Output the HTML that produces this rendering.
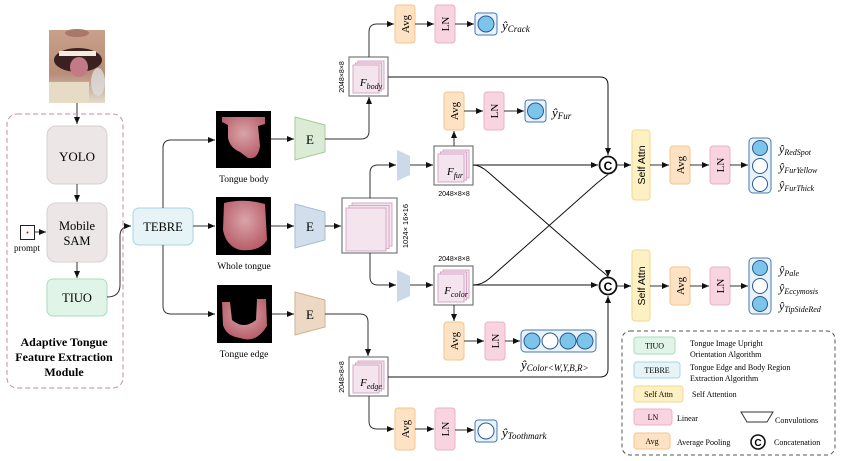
<!DOCTYPE html>
<html><head><meta charset="utf-8"><style>
html,body{margin:0;padding:0;background:#fff;}
svg{display:block;font-family:"Liberation Serif",serif;}
.s{font-family:"Liberation Sans",sans-serif;}
</style></head><body>
<svg width="847" height="461" viewBox="0 0 847 461" xmlns="http://www.w3.org/2000/svg">
<defs>
<marker id="a" markerWidth="8" markerHeight="8" refX="7" refY="4" orient="auto" markerUnits="userSpaceOnUse"><path d="M0,1 L7,4 L0,7 z" fill="#111"/></marker>
<linearGradient id="skin" x1="0" y1="0" x2="0" y2="1"><stop offset="0" stop-color="#c9a08a"/><stop offset="0.6" stop-color="#b88d78"/><stop offset="1" stop-color="#e3dccb"/></linearGradient>
<radialGradient id="tg" cx="0.5" cy="0.4" r="0.6"><stop offset="0" stop-color="#d9a5a8"/><stop offset="1" stop-color="#b85e6a"/></radialGradient>
<g id="stk"><rect x="0" y="0" width="39" height="39" fill="#fff" stroke="#777" stroke-width="1.2"/><rect x="9" y="4" width="26" height="28" fill="#f3e4ee" stroke="#d8a8c8"/><rect x="6.5" y="6" width="26" height="28" fill="#f3e4ee" stroke="#d8a8c8"/><rect x="4" y="8" width="26" height="28" fill="#f3e4ee" stroke="#d8a8c8"/></g>
</defs>

<!-- photo -->
<rect x="49" y="30" width="56" height="73" fill="url(#skin)"/>
<ellipse cx="77" cy="33" rx="12" ry="4" fill="#a87868"/>
<ellipse cx="78" cy="60" rx="24" ry="12" fill="#3a2020"/>
<rect x="59" y="51" width="37" height="5" fill="#f1ece0"/>
<ellipse cx="79" cy="67" rx="9" ry="10" fill="#c27a86"/>
<ellipse cx="98" cy="82" rx="7" ry="14" fill="#ddd" opacity="0.8"/>
<rect x="49" y="82" width="40" height="21" fill="#e6dcc6"/>
<line x1="77" y1="103" x2="77" y2="124" stroke="#333" marker-end="url(#a)"/>

<!-- module -->
<rect x="7" y="114" width="116" height="274" rx="10" fill="none" stroke="#c98aa8" stroke-dasharray="5,3"/>
<rect x="47" y="126" width="60" height="58" rx="9" fill="#ece6e6" stroke="#d6d0d0"/>
<text x="77" y="161" text-anchor="middle" font-size="13">YOLO</text>
<line x1="77" y1="184" x2="77" y2="202" stroke="#333" marker-end="url(#a)"/>
<rect x="47" y="203" width="60" height="59" rx="9" fill="#ece6e6" stroke="#d6d0d0"/>
<text x="77" y="230" text-anchor="middle" font-size="12.5">Mobile</text>
<text x="77" y="245" text-anchor="middle" font-size="12.5">SAM</text>
<line x1="77" y1="262" x2="77" y2="278" stroke="#333" marker-end="url(#a)"/>
<rect x="47" y="279" width="60" height="37" rx="6" fill="#e1f4e8" stroke="#a8dcbc"/>
<text x="77" y="302" text-anchor="middle" font-size="12.5">TIUO</text>
<rect x="20.5" y="225.5" width="14" height="14" fill="#fff" stroke="#222"/>
<circle cx="27.5" cy="232.5" r="1" fill="#e00"/>
<line x1="35" y1="232" x2="46" y2="232" stroke="#333" marker-end="url(#a)"/>
<text x="27" y="251" text-anchor="middle" font-size="9">prompt</text>
<text x="64" y="346" text-anchor="middle" font-size="12" font-weight="bold">Adaptive Tongue</text>
<text x="64" y="361" text-anchor="middle" font-size="12" font-weight="bold">Feature Extraction</text>
<text x="64" y="376" text-anchor="middle" font-size="12" font-weight="bold">Module</text>
<path d="M107,297 Q120,297 120,285 L120,236 Q120,226 131,226" fill="none" stroke="#333" marker-end="url(#a)"/>

<!-- TEBRE -->
<rect x="133" y="208" width="60" height="37" rx="6" fill="#e6f4f8" stroke="#a8d4e4"/>
<text x="163" y="231" text-anchor="middle" font-size="12.5">TEBRE</text>
<path d="M163,208 L163,148 Q163,140 171,140 L215,140" fill="none" stroke="#333" marker-end="url(#a)"/>
<line x1="193" y1="226" x2="215" y2="226" stroke="#333" marker-end="url(#a)"/>
<path d="M163,245 L163,306 Q163,314 171,314 L215,314" fill="none" stroke="#333" marker-end="url(#a)"/>

<!-- tongue images -->
<rect x="216" y="111" width="55" height="57" fill="#000"/>
<path d="M222,117 L265,117 L265,124 L258,126 L260,146 Q258,160 248,158 L240,152 Q230,148 228,138 L228,125 L222,122z" fill="url(#tg)"/>
<text x="244" y="182" text-anchor="middle" font-size="9.5">Tongue body</text>
<rect x="216" y="197" width="55" height="58" fill="#000"/>
<path d="M224,203 Q244,198 265,204 L267,240 Q260,252 240,250 Q226,246 223,230z" fill="url(#tg)"/>
<text x="244" y="269" text-anchor="middle" font-size="9.5">Whole tongue</text>
<rect x="217" y="285" width="55" height="58" fill="#000"/>
<path d="M222,302 L230,302 L232,320 Q244,330 256,320 L257,299 L266,299 L267,326 Q256,344 240,338 Q226,336 223,325z" fill="url(#tg)"/>
<text x="244" y="357" text-anchor="middle" font-size="9.5">Tongue edge</text>

<line x1="271" y1="139" x2="294" y2="139" stroke="#333" marker-end="url(#a)"/>
<line x1="271" y1="226" x2="294" y2="226" stroke="#333" marker-end="url(#a)"/>
<line x1="272" y1="314" x2="294" y2="314" stroke="#333" marker-end="url(#a)"/>

<!-- E encoders -->
<polygon points="295,117 325,125 325,152 295,160" fill="#dcebd6" stroke="#a8c89c"/>
<text x="310" y="144" text-anchor="middle" font-size="13">E</text>
<polygon points="295,204 325,212 325,240 295,248" fill="#d2deec" stroke="#a8bcd4"/>
<text x="310" y="231" text-anchor="middle" font-size="13">E</text>
<polygon points="295,292 325,300 325,327 295,335" fill="#ecd8c4" stroke="#d0b08c"/>
<text x="310" y="319" text-anchor="middle" font-size="13">E</text>

<path d="M325,139 L361,139 Q369,139 369,131 L369,97" fill="none" stroke="#333" marker-end="url(#a)"/>
<line x1="325" y1="226" x2="341" y2="226" stroke="#333" marker-end="url(#a)"/>
<path d="M325,314 L360,314 Q368,314 368,322 L368,356" fill="none" stroke="#333" marker-end="url(#a)"/>

<!-- big stack -->
<rect x="342" y="198" width="55" height="55" fill="#fff" stroke="#777" stroke-width="1.2"/>
<rect x="352" y="203" width="40" height="43" fill="#f3e4ee" stroke="#d8a8c8"/>
<rect x="349" y="205.5" width="40" height="43" fill="#f3e4ee" stroke="#d8a8c8"/>
<rect x="346" y="208" width="40" height="43" fill="#f3e4ee" stroke="#d8a8c8"/>
<text transform="translate(408,226) rotate(-90)" text-anchor="middle" font-size="7.5" class="s">1024× 16×16</text>
<path d="M370,198 L370,173 Q370,165 378,165 L396,165" fill="none" stroke="#333" marker-end="url(#a)"/>
<path d="M370,253 L370,277 Q370,285 378,285 L396,285" fill="none" stroke="#333" marker-end="url(#a)"/>

<!-- convs -->
<polygon points="397,150 410,156 410,175 397,181" fill="#cbd9e8"/>
<polygon points="397,270 410,276 410,296 397,302" fill="#cbd9e8"/>
<line x1="410" y1="165" x2="433" y2="165" stroke="#333" marker-end="url(#a)"/>
<line x1="410" y1="285" x2="433" y2="285" stroke="#333" marker-end="url(#a)"/>

<!-- feature stacks -->
<use href="#stk" x="349" y="57"/>
<text x="371" y="86" text-anchor="middle" font-size="11" font-style="italic">F<tspan font-size="8" dy="3">body</tspan></text>
<text transform="translate(344,77) rotate(-90)" text-anchor="middle" font-size="7" class="s">2048×8×8</text>
<use href="#stk" x="434" y="146"/>
<text x="455" y="175" text-anchor="middle" font-size="11" font-style="italic">F<tspan font-size="8" dy="3">fur</tspan></text>
<text x="454" y="196" text-anchor="middle" font-size="7" class="s">2048×8×8</text>
<use href="#stk" x="434" y="266"/>
<text x="456" y="294" text-anchor="middle" font-size="11" font-style="italic">F<tspan font-size="8" dy="3">color</tspan></text>
<text x="454" y="261" text-anchor="middle" font-size="7" class="s">2048×8×8</text>
<use href="#stk" x="349" y="357"/>
<text x="371" y="386" text-anchor="middle" font-size="11" font-style="italic">F<tspan font-size="8" dy="3">edge</tspan></text>
<text transform="translate(344,377) rotate(-90)" text-anchor="middle" font-size="7" class="s">2048×8×8</text>

<!-- heads -->
<g font-size="11">
<path d="M369,57 L369,32 Q369,24 377,24 L394,24" fill="none" stroke="#333" marker-end="url(#a)"/>
<rect x="395" y="5" width="20" height="38" rx="3" fill="#fde3c4" stroke="#f4c48c"/>
<text transform="translate(409,24) rotate(-90)" text-anchor="middle">Avg</text>
<line x1="415" y1="24" x2="434" y2="24" stroke="#333" marker-end="url(#a)"/>
<rect x="435" y="5" width="20" height="38" rx="3" fill="#f8d4e0" stroke="#eeb0c8"/>
<text transform="translate(449,24) rotate(-90)" text-anchor="middle">LN</text>
<line x1="455" y1="24" x2="474" y2="24" stroke="#333" marker-end="url(#a)"/>
<rect x="475" y="13" width="22" height="22" rx="3" fill="#e8f2fa" stroke="#4a78b0"/>
<circle cx="486" cy="24" r="8" fill="#7cc4ea" stroke="#2a5a90"/>
<text x="502" y="30" font-size="13" font-style="italic">ŷ<tspan font-size="9" dy="2">Crack</tspan></text>

<line x1="454" y1="146" x2="454" y2="131" stroke="#333" marker-end="url(#a)"/>
<rect x="444" y="92" width="20" height="38" rx="3" fill="#fde3c4" stroke="#f4c48c"/>
<text transform="translate(458,111) rotate(-90)" text-anchor="middle">Avg</text>
<line x1="464" y1="111" x2="483" y2="111" stroke="#333" marker-end="url(#a)"/>
<rect x="484" y="92" width="20" height="38" rx="3" fill="#f8d4e0" stroke="#eeb0c8"/>
<text transform="translate(498,111) rotate(-90)" text-anchor="middle">LN</text>
<line x1="504" y1="111" x2="524" y2="111" stroke="#333" marker-end="url(#a)"/>
<rect x="525" y="100" width="21" height="22" rx="3" fill="#e8f2fa" stroke="#4a78b0"/>
<circle cx="535.5" cy="111" r="8" fill="#7cc4ea" stroke="#2a5a90"/>
<text x="552" y="117" font-size="13" font-style="italic">ŷ<tspan font-size="9" dy="2">Fur</tspan></text>

<line x1="454" y1="305" x2="454" y2="321" stroke="#333" marker-end="url(#a)"/>
<rect x="444" y="322" width="20" height="38" rx="3" fill="#fde3c4" stroke="#f4c48c"/>
<text transform="translate(458,341) rotate(-90)" text-anchor="middle">Avg</text>
<line x1="464" y1="341" x2="484" y2="341" stroke="#333" marker-end="url(#a)"/>
<rect x="485" y="322" width="20" height="38" rx="3" fill="#f8d4e0" stroke="#eeb0c8"/>
<text transform="translate(499,341) rotate(-90)" text-anchor="middle">LN</text>
<line x1="505" y1="341" x2="520" y2="341" stroke="#333" marker-end="url(#a)"/>
<rect x="521" y="330" width="75" height="22" rx="4" fill="#e8f2fa" stroke="#4a78b0"/>
<circle cx="532" cy="341" r="8" fill="#7cc4ea" stroke="#2a5a90"/>
<circle cx="550" cy="341" r="8" fill="#fff" stroke="#2a5a90"/>
<circle cx="568" cy="341" r="8" fill="#7cc4ea" stroke="#2a5a90"/>
<circle cx="585" cy="341" r="8" fill="#7cc4ea" stroke="#2a5a90"/>
<text x="521" y="369" font-size="13" font-style="italic">ŷ<tspan font-size="9" dy="2">Color&lt;W,Y,B,R&gt;</tspan></text>

<path d="M369,396 L369,421 Q369,429 377,429 L394,429" fill="none" stroke="#333" marker-end="url(#a)"/>
<rect x="395" y="408" width="20" height="42" rx="3" fill="#fde3c4" stroke="#f4c48c"/>
<text transform="translate(409,429) rotate(-90)" text-anchor="middle">Avg</text>
<line x1="415" y1="429" x2="434" y2="429" stroke="#333" marker-end="url(#a)"/>
<rect x="435" y="408" width="20" height="42" rx="3" fill="#f8d4e0" stroke="#eeb0c8"/>
<text transform="translate(449,429) rotate(-90)" text-anchor="middle">LN</text>
<line x1="455" y1="430" x2="474" y2="430" stroke="#333" marker-end="url(#a)"/>
<rect x="475" y="420" width="22" height="22" rx="3" fill="#e8f2fa" stroke="#4a78b0"/>
<circle cx="486" cy="431" r="8" fill="#fff" stroke="#2a5a90"/>
<text x="502" y="437" font-size="13" font-style="italic">ŷ<tspan font-size="9" dy="2">Toothmark</tspan></text>
</g>

<!-- connections to concatenations -->
<path d="M388,77 L600,77 Q608,77 608,85 L608,155" fill="none" stroke="#111" marker-end="url(#a)"/>
<line x1="473" y1="165" x2="598" y2="165" stroke="#111" marker-end="url(#a)"/>
<path d="M473,165 Q480,165 488,172 L598,268 Q608,276 608,277" fill="none" stroke="#111" marker-end="url(#a)"/>
<path d="M473,285 Q482,285 490,278 L596,184 Q608,174 608,175" fill="none" stroke="#111" marker-end="url(#a)"/>
<line x1="473" y1="285" x2="598" y2="285" stroke="#111" marker-end="url(#a)"/>
<path d="M388,377 L600,377 Q608,377 608,369 L608,296" fill="none" stroke="#111" marker-end="url(#a)"/>

<g class="s">
<circle cx="608" cy="165" r="8.5" fill="#fff" stroke="#111" stroke-width="1.8"/>
<text x="608" y="170" text-anchor="middle" font-size="12" font-weight="bold">C</text>
<circle cx="608" cy="286" r="8.5" fill="#fff" stroke="#111" stroke-width="1.8"/>
<text x="608" y="291" text-anchor="middle" font-size="12" font-weight="bold">C</text>
</g>

<g font-size="11">
<line x1="617" y1="165" x2="631" y2="165" stroke="#333" marker-end="url(#a)"/>
<rect x="632" y="130" width="18" height="70" rx="3" fill="#fdf1c4" stroke="#f2d890"/>
<text transform="translate(645,165) rotate(-90)" text-anchor="middle" class="s" font-size="10.5">Self Attn</text>
<line x1="650" y1="165" x2="669" y2="165" stroke="#333" marker-end="url(#a)"/>
<rect x="670" y="146" width="20" height="38" rx="3" fill="#fde3c4" stroke="#f4c48c"/>
<text transform="translate(684,165) rotate(-90)" text-anchor="middle">Avg</text>
<line x1="690" y1="165" x2="709" y2="165" stroke="#333" marker-end="url(#a)"/>
<rect x="710" y="146" width="20" height="38" rx="3" fill="#f8d4e0" stroke="#eeb0c8"/>
<text transform="translate(724,165) rotate(-90)" text-anchor="middle">LN</text>
<line x1="730" y1="165" x2="748" y2="165" stroke="#333" marker-end="url(#a)"/>
<rect x="749" y="138" width="22" height="55" rx="4" fill="#e8f2fa" stroke="#4a78b0"/>
<circle cx="760" cy="148" r="7.5" fill="#7cc4ea" stroke="#2a5a90"/>
<circle cx="760" cy="166" r="7.5" fill="#fff" stroke="#2a5a90"/>
<circle cx="760" cy="184" r="7.5" fill="#fff" stroke="#2a5a90"/>
<text x="779" y="153" font-size="12" font-style="italic">ŷ<tspan font-size="8" dy="2">RedSpot</tspan></text>
<text x="779" y="171" font-size="12" font-style="italic">ŷ<tspan font-size="8" dy="2">FurYellow</tspan></text>
<text x="779" y="189" font-size="12" font-style="italic">ŷ<tspan font-size="8" dy="2">FurThick</tspan></text>

<line x1="617" y1="286" x2="631" y2="286" stroke="#333" marker-end="url(#a)"/>
<rect x="632" y="250" width="18" height="71" rx="3" fill="#fdf1c4" stroke="#f2d890"/>
<text transform="translate(645,286) rotate(-90)" text-anchor="middle" class="s" font-size="10.5">Self Attn</text>
<line x1="650" y1="286" x2="669" y2="286" stroke="#333" marker-end="url(#a)"/>
<rect x="670" y="267" width="20" height="38" rx="3" fill="#fde3c4" stroke="#f4c48c"/>
<text transform="translate(684,286) rotate(-90)" text-anchor="middle">Avg</text>
<line x1="690" y1="286" x2="709" y2="286" stroke="#333" marker-end="url(#a)"/>
<rect x="710" y="267" width="20" height="38" rx="3" fill="#f8d4e0" stroke="#eeb0c8"/>
<text transform="translate(724,286) rotate(-90)" text-anchor="middle">LN</text>
<line x1="730" y1="286" x2="748" y2="286" stroke="#333" marker-end="url(#a)"/>
<rect x="749" y="258" width="22" height="56" rx="4" fill="#e8f2fa" stroke="#4a78b0"/>
<circle cx="760" cy="268" r="7.5" fill="#7cc4ea" stroke="#2a5a90"/>
<circle cx="760" cy="286" r="7.5" fill="#fff" stroke="#2a5a90"/>
<circle cx="760" cy="304" r="7.5" fill="#7cc4ea" stroke="#2a5a90"/>
<text x="779" y="274" font-size="12" font-style="italic">ŷ<tspan font-size="8" dy="2">Pale</tspan></text>
<text x="779" y="292" font-size="12" font-style="italic">ŷ<tspan font-size="8" dy="2">Eccymosis</tspan></text>
<text x="779" y="310" font-size="12" font-style="italic">ŷ<tspan font-size="8" dy="2">TipSideRed</tspan></text>
</g>

<!-- legend -->
<rect x="622" y="331" width="213" height="124" rx="8" fill="none" stroke="#555" stroke-dasharray="4,3"/>
<g font-size="8">
<rect x="634" y="337" width="41" height="17" rx="3" fill="#e1f4e8" stroke="#a8dcbc"/>
<text x="654.5" y="348.5" text-anchor="middle">TIUO</text>
<text x="690" y="346">Tongue Image Upright</text>
<text x="690" y="357">Orientation Algorithm</text>
<rect x="634" y="362" width="46" height="16" rx="3" fill="#e6f4f8" stroke="#a8d4e4"/>
<text x="657" y="373" text-anchor="middle">TEBRE</text>
<text x="690" y="370">Tongue Edge and Body Region</text>
<text x="690" y="381">Extraction Algorithm</text>
<rect x="634" y="386" width="49" height="16" rx="3" fill="#fdf1c4" stroke="#f2d890"/>
<text x="658.5" y="397" text-anchor="middle">Self Attn</text>
<text x="692" y="397">Self Attention</text>
<rect x="634" y="409" width="38" height="16" rx="3" fill="#f8d4e0" stroke="#eeb0c8"/>
<text x="653" y="420" text-anchor="middle">LN</text>
<text x="677" y="421">Linear</text>
<polygon points="741,412 773,412 767,422 747,422" fill="#fff" stroke="#333"/>
<text x="775" y="423">Convulotions</text>
<rect x="634" y="433" width="36" height="16" rx="3" fill="#fde3c4" stroke="#f4c48c"/>
<text x="652" y="444" text-anchor="middle">Avg</text>
<text x="677" y="445">Average Pooling</text>
<circle cx="758" cy="442" r="7" fill="#fff" stroke="#111" stroke-width="1.6"/>
<text x="758" y="446" text-anchor="middle" font-size="10" font-weight="bold" class="s">C</text>
<text x="774" y="445">Concatenation</text>
</g>
</svg>
</body></html>
